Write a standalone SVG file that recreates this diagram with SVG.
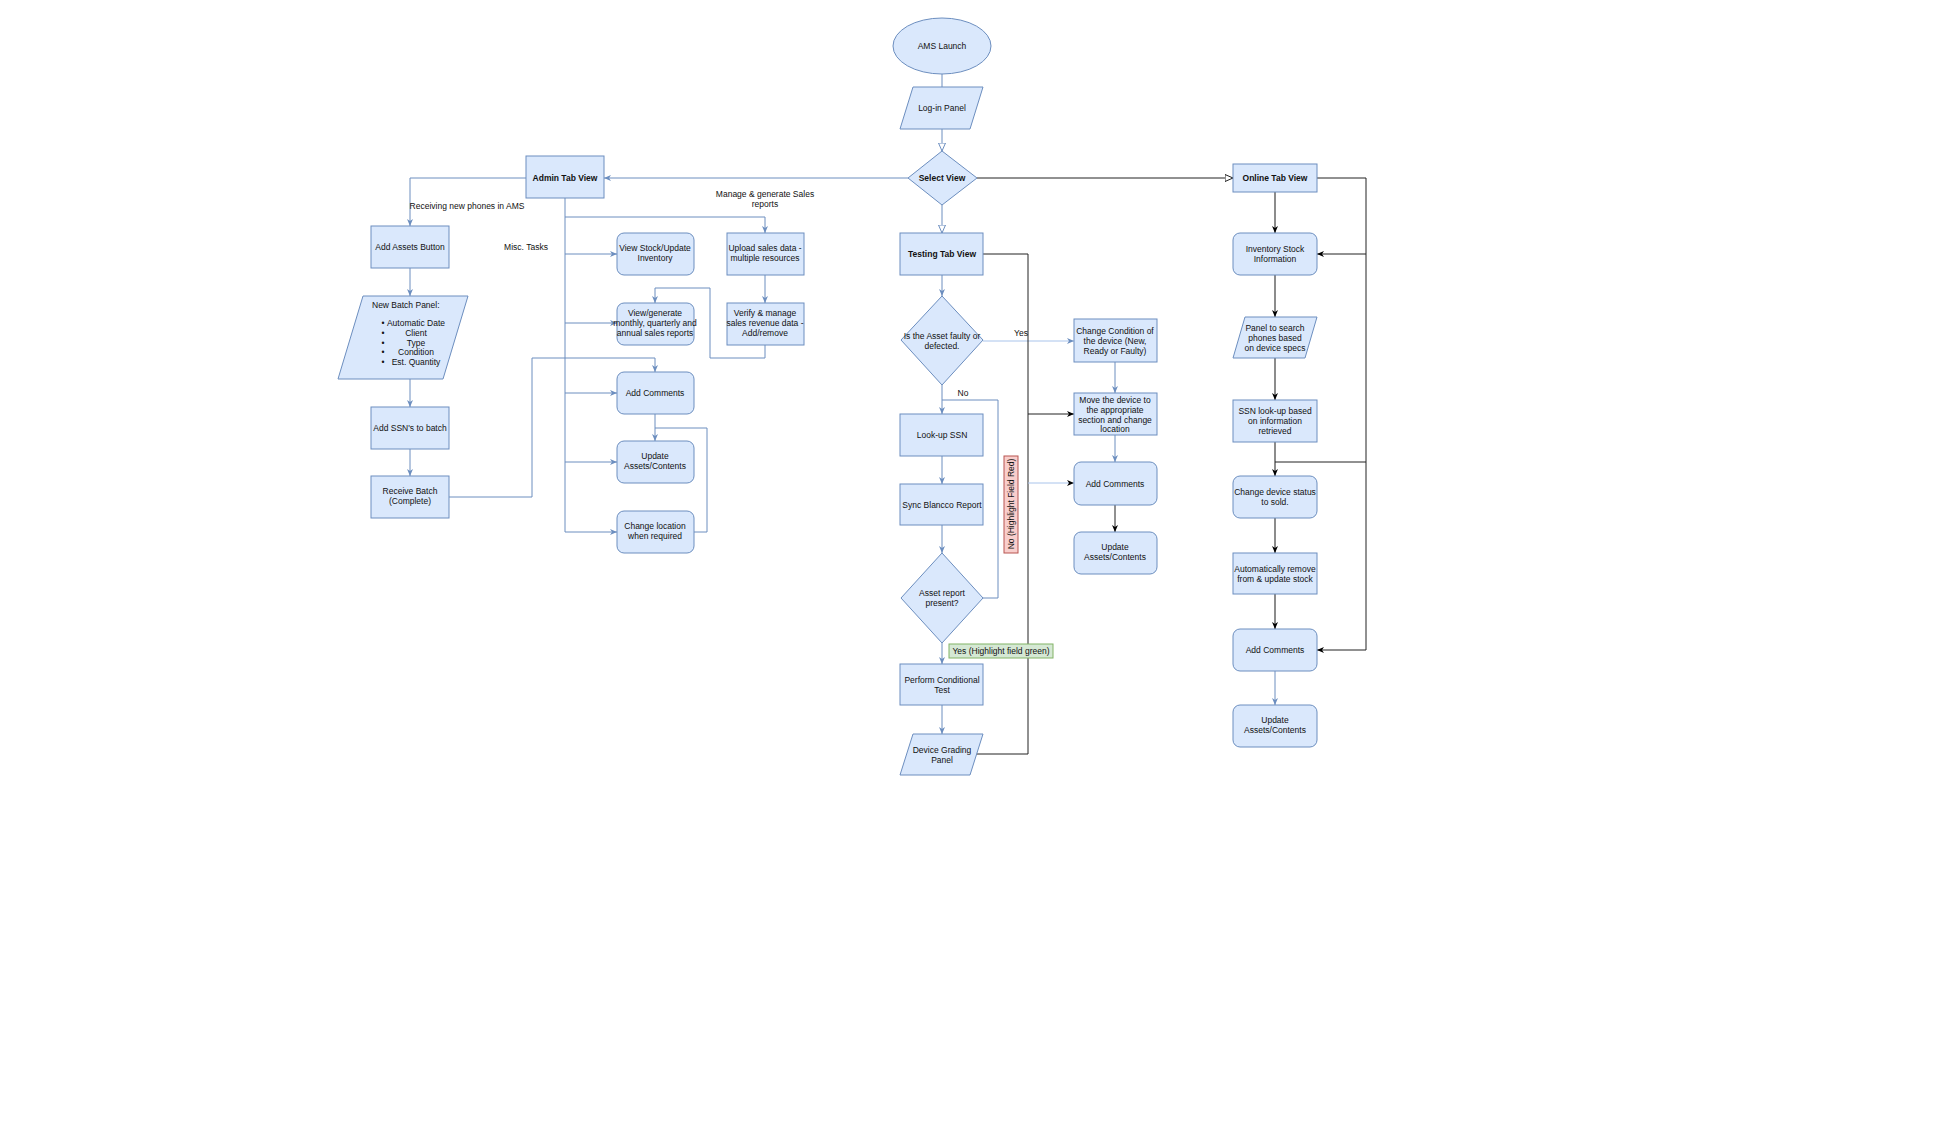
<svg xmlns="http://www.w3.org/2000/svg" width="1934" height="1130" viewBox="0 0 1934 1130">
<style>
.n{fill:#dae8fc;stroke:#6c8ebf;stroke-width:1}
text{font-family:"Liberation Sans",Arial,sans-serif;font-size:8.5px;fill:#111;text-anchor:middle}
.b{font-weight:bold}
.c{fill:none;stroke:#6c8ebf;stroke-width:1}
.k{fill:none;stroke:#222;stroke-width:1}
.g{fill:none;stroke:#666;stroke-width:1.5}
.l{fill:none;stroke:#a9c4eb;stroke-width:1}
</style>
<defs>
<marker id="ab" markerWidth="8" markerHeight="8" refX="7" refY="4" orient="auto" markerUnits="userSpaceOnUse"><path d="M0,1 L7,4 L0,7 L2,4 Z" fill="#6c8ebf"/></marker>
<marker id="ak" markerWidth="8" markerHeight="8" refX="7" refY="4" orient="auto" markerUnits="userSpaceOnUse"><path d="M0,1 L7,4 L0,7 L2,4 Z" fill="#000"/></marker>
<marker id="ao" markerWidth="9" markerHeight="9" refX="8" refY="4.5" orient="auto" markerUnits="userSpaceOnUse"><path d="M0,1 L8,4.5 L0,8 Z" fill="#fff" stroke="#6c8ebf"/></marker>
<marker id="aok" markerWidth="9" markerHeight="9" refX="8" refY="4.5" orient="auto" markerUnits="userSpaceOnUse"><path d="M0,1 L8,4.5 L0,8 Z" fill="#fff" stroke="#222"/></marker>
</defs>
<rect width="1934" height="1130" fill="#fff"/>
<g id="connectors">
<path class="c" d="M942,74 V87"/>
<path class="c" d="M942,129 V151" marker-end="url(#ao)"/>
<path class="c" d="M942,205 V233" marker-end="url(#ao)"/>
<path class="k" d="M977,178 H1233" marker-end="url(#aok)"/>
<path class="c" d="M908,178 H604" marker-end="url(#ab)"/>
<path class="c" d="M526,178 H410 V226" marker-end="url(#ab)"/>
<path class="c" d="M410,268 V296" marker-end="url(#ab)"/>
<path class="c" d="M410,379 V407" marker-end="url(#ab)"/>
<path class="c" d="M410,449 V476" marker-end="url(#ab)"/>
<path class="c" d="M449,497 H532 V358 H655 V372" marker-end="url(#ab)"/>
<path class="c" d="M565,198 V532"/>
<path class="c" d="M565,217 H765 V233" marker-end="url(#ab)"/>
<path class="c" d="M565,254 H617" marker-end="url(#ab)"/>
<path class="c" d="M565,323 H617" marker-end="url(#ab)"/>
<path class="c" d="M565,393 H617" marker-end="url(#ab)"/>
<path class="c" d="M565,462 H617" marker-end="url(#ab)"/>
<path class="c" d="M565,532 H617" marker-end="url(#ab)"/>
<path class="c" d="M765,275 V303" marker-end="url(#ab)"/>
<path class="c" d="M765,345 V358 H710 V288 H655 V303" marker-end="url(#ab)"/>
<path class="c" d="M655,414 V441" marker-end="url(#ab)"/>
<path class="c" d="M694,532 H707 V428 H655"/>
<path class="c" d="M942,275 V296" marker-end="url(#ab)"/>
<path class="l" d="M983,341 H1074" marker-end="url(#ab)"/>
<path class="c" d="M942,385 V414" marker-end="url(#ab)"/>
<path class="c" d="M983,598 H998 V400 H942"/>
<path class="c" d="M942,456 V484" marker-end="url(#ab)"/>
<path class="c" d="M942,525 V553" marker-end="url(#ab)"/>
<path class="c" d="M942,643 V664" marker-end="url(#ab)"/>
<path class="c" d="M942,705 V734" marker-end="url(#ab)"/>
<path class="k" d="M983,254 H1028 V754 H975"/>
<path class="k" d="M1028,414 H1074" marker-end="url(#ak)"/>
<path class="l" d="M1028,483 H1074" stroke="#999" marker-end="url(#ak)"/>
<path class="c" d="M1115,362 V393" marker-end="url(#ab)"/>
<path class="c" d="M1115,435 V462" marker-end="url(#ab)"/>
<path class="k" d="M1115,505 V532" marker-end="url(#ak)"/>
<path class="g" d="M1275,192 V233" marker-end="url(#ak)"/>
<path class="g" d="M1275,275 V317" marker-end="url(#ak)"/>
<path class="g" d="M1275,358 V400" marker-end="url(#ak)"/>
<path class="g" d="M1275,442 V476" marker-end="url(#ak)"/>
<path class="g" d="M1275,518 V553" marker-end="url(#ak)"/>
<path class="g" d="M1275,594 V629" marker-end="url(#ak)"/>
<path class="c" d="M1275,671 V705" marker-end="url(#ab)"/>
<path class="k" d="M1317,178 H1366 V650 H1317" marker-end="url(#ak)"/>
<path class="k" d="M1366,254 H1317" marker-end="url(#ak)"/>
<path class="k" d="M1275,462 H1366"/>
</g>
<g id="labels">
<text x="467" y="209">Receiving new phones in AMS</text>
<text x="765" y="197">Manage &amp; generate Sales</text>
<text x="765" y="207">reports</text>
<text x="526" y="250">Misc. Tasks</text>
<text x="1021" y="336">Yes</text>
<text x="963" y="396">No</text>
<rect x="1004" y="456" width="14" height="97" fill="#f8cecc" stroke="#b85450"/>
<text transform="translate(1014,504) rotate(-90)">No (Highlight Field Red)</text>
<rect x="949" y="644" width="104" height="14" fill="#d5e8d4" stroke="#82b366"/>
<text x="1001" y="654">Yes (Highlight field green)</text>
</g>
<g id="ams"><ellipse class="n" cx="942" cy="46" rx="49" ry="28"/><text x="942" y="49">AMS Launch</text></g>
<g id="login"><polygon class="n" points="913,87 983,87 970,129 900,129"/><text x="942" y="111">Log-in Panel</text></g>
<g id="select"><polygon class="n" points="942,151 977,178 942,205 908,178"/><text class="b" x="942" y="181">Select View</text></g>
<g id="admin"><rect class="n" x="526" y="156" width="78" height="42"/><text class="b" x="565" y="181">Admin Tab View</text></g>
<g id="online"><rect class="n" x="1233" y="164" width="84" height="28"/><text class="b" x="1275" y="181">Online Tab View</text></g>
<g id="testing"><rect class="n" x="900" y="233" width="83" height="42"/><text class="b" x="942" y="257">Testing Tab View</text></g>
<g id="addassets"><rect class="n" x="371" y="226" width="78" height="42"/><text x="410" y="250">Add Assets Button</text></g>
<g id="batch"><polygon class="n" points="363,296 468,296 443,379 338,379"/>
<text x="372" y="308" style="text-anchor:start">New Batch Panel:</text>
<text x="383" y="326">•</text><text x="416" y="326">Automatic Date</text>
<text x="383" y="336">•</text><text x="416" y="336">Client</text>
<text x="383" y="346">•</text><text x="416" y="346">Type</text>
<text x="383" y="355">•</text><text x="416" y="355">Condition</text>
<text x="383" y="365">•</text><text x="416" y="365">Est. Quantity</text></g>
<g id="addssn"><rect class="n" x="371" y="407" width="78" height="42"/><text x="410" y="431">Add SSN's to batch</text></g>
<g id="receive"><rect class="n" x="371" y="476" width="78" height="42"/><text x="410" y="494">Receive Batch</text><text x="410" y="504">(Complete)</text></g>
<g id="viewstock"><rect class="n" x="617" y="233" width="77" height="42" rx="7"/><text x="655" y="251">View Stock/Update</text><text x="655" y="261">Inventory</text></g>
<g id="viewgen"><rect class="n" x="617" y="303" width="77" height="42" rx="7"/><text x="655" y="316">View/generate</text><text x="655" y="326">monthly, quarterly and</text><text x="655" y="336">annual sales reports</text></g>
<g id="addc1"><rect class="n" x="617" y="372" width="77" height="42" rx="7"/><text x="655" y="396">Add Comments</text></g>
<g id="upd1"><rect class="n" x="617" y="441" width="77" height="42" rx="7"/><text x="655" y="459">Update</text><text x="655" y="469">Assets/Contents</text></g>
<g id="chloc"><rect class="n" x="617" y="511" width="77" height="42" rx="7"/><text x="655" y="529">Change location</text><text x="655" y="539">when required</text></g>
<g id="upload"><rect class="n" x="727" y="233" width="77" height="42"/><text x="765" y="251">Upload sales data -</text><text x="765" y="261">multiple resources</text></g>
<g id="verify"><rect class="n" x="727" y="303" width="77" height="42"/><text x="765" y="316">Verify &amp; manage</text><text x="765" y="326">sales revenue data -</text><text x="765" y="336">Add/remove</text></g>
<g id="faulty"><polygon class="n" points="942,296 983,340 942,385 901,340"/><text x="942" y="339">Is the Asset faulty or</text><text x="942" y="349">defected.</text></g>
<g id="lookup"><rect class="n" x="900" y="414" width="83" height="42"/><text x="942" y="438">Look-up SSN</text></g>
<g id="sync"><rect class="n" x="900" y="484" width="83" height="41"/><text x="942" y="508">Sync Blancco Report</text></g>
<g id="report"><polygon class="n" points="942,553 983,598 942,643 901,598"/><text x="942" y="596">Asset report</text><text x="942" y="606">present?</text></g>
<g id="perform"><rect class="n" x="900" y="664" width="83" height="41"/><text x="942" y="683">Perform Conditional</text><text x="942" y="693">Test</text></g>
<g id="grading"><polygon class="n" points="913,734 983,734 970,775 900,775"/><text x="942" y="753">Device Grading</text><text x="942" y="763">Panel</text></g>
<g id="chcond"><rect class="n" x="1074" y="319" width="83" height="43"/><text x="1115" y="334">Change Condition of</text><text x="1115" y="344">the device (New,</text><text x="1115" y="354">Ready or Faulty)</text></g>
<g id="move"><rect class="n" x="1074" y="393" width="83" height="42"/><text x="1115" y="403">Move the device to</text><text x="1115" y="413">the appropriate</text><text x="1115" y="423">section and change</text><text x="1115" y="432">location</text></g>
<g id="addc2"><rect class="n" x="1074" y="462" width="83" height="43" rx="7"/><text x="1115" y="487">Add Comments</text></g>
<g id="upd2"><rect class="n" x="1074" y="532" width="83" height="42" rx="7"/><text x="1115" y="550">Update</text><text x="1115" y="560">Assets/Contents</text></g>
<g id="inv"><rect class="n" x="1233" y="233" width="84" height="42" rx="7"/><text x="1275" y="252">Inventory Stock</text><text x="1275" y="262">Information</text></g>
<g id="search"><polygon class="n" points="1245,317 1317,317 1305,358 1233,358"/><text x="1275" y="331">Panel to search</text><text x="1275" y="341">phones based</text><text x="1275" y="351">on device specs</text></g>
<g id="ssnlook"><rect class="n" x="1233" y="400" width="84" height="42"/><text x="1275" y="414">SSN look-up based</text><text x="1275" y="424">on information</text><text x="1275" y="434">retrieved</text></g>
<g id="sold"><rect class="n" x="1233" y="476" width="84" height="42" rx="7"/><text x="1275" y="495">Change device status</text><text x="1275" y="505">to sold.</text></g>
<g id="autorm"><rect class="n" x="1233" y="553" width="84" height="41" rx="0"/><text x="1275" y="572">Automatically remove</text><text x="1275" y="582">from &amp; update stock</text></g>
<g id="addc3"><rect class="n" x="1233" y="629" width="84" height="42" rx="7"/><text x="1275" y="653">Add Comments</text></g>
<g id="upd3"><rect class="n" x="1233" y="705" width="84" height="42" rx="7"/><text x="1275" y="723">Update</text><text x="1275" y="733">Assets/Contents</text></g>
</svg>
